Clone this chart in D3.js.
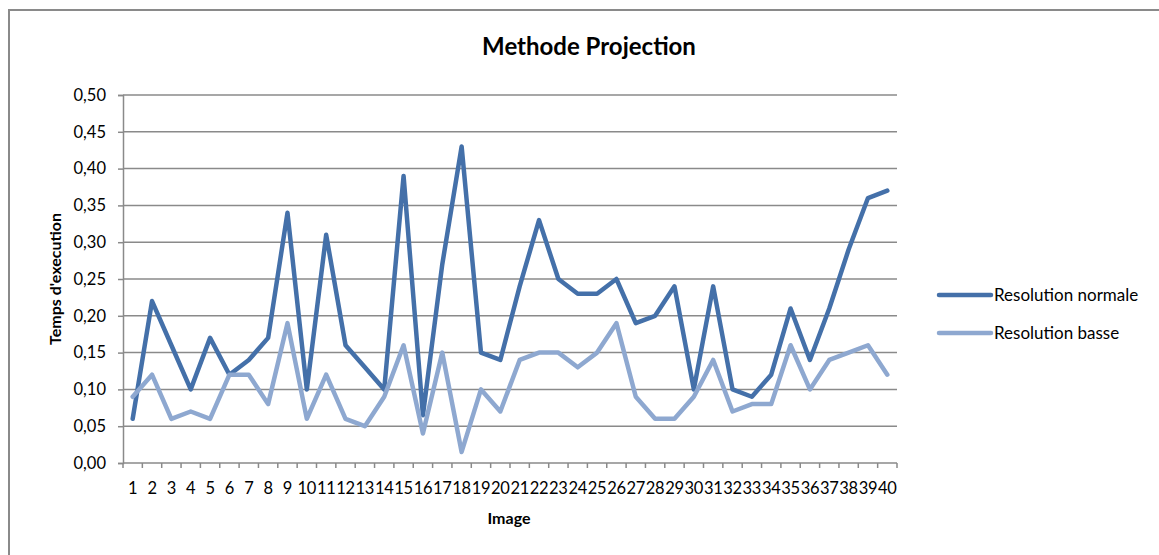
<!DOCTYPE html>
<html>
<head>
<meta charset="utf-8">
<script src="https://cdn.jsdelivr.net/npm/d3@7"></script>
<style>
  body { margin: 0; background: #fff; }
  svg { display: block; font-family: Lato, "Open Sans", sans-serif; }
</style>
</head>
<body>
<div id="chart"></div>
<script>
const images = d3.range(1, 41).map(String)
const normale = [0.06, 0.22, 0.16, 0.10, 0.17, 0.12, 0.14, 0.17, 0.34, 0.10,
  0.31, 0.16, 0.13, 0.10, 0.39, 0.065, 0.27, 0.43, 0.15, 0.14,
  0.24, 0.33, 0.25, 0.23, 0.23, 0.25, 0.19, 0.20, 0.24, 0.10,
  0.24, 0.10, 0.09, 0.12, 0.21, 0.14, 0.21, 0.29, 0.36, 0.37]
const basse = [0.09, 0.12, 0.06, 0.07, 0.06, 0.12, 0.12, 0.08, 0.19, 0.06,
  0.12, 0.06, 0.05, 0.09, 0.16, 0.04, 0.15, 0.015, 0.10, 0.07,
  0.14, 0.15, 0.15, 0.13, 0.15, 0.19, 0.09, 0.06, 0.06, 0.09,
  0.14, 0.07, 0.08, 0.08, 0.16, 0.10, 0.14, 0.15, 0.16, 0.12]
const yTicks = [0, 0.05, 0.10, 0.15, 0.20, 0.25, 0.30, 0.35, 0.40, 0.45, 0.50]
const series = [
  { name: "Resolution normale", values: normale, color: "#4470a9" },
  { name: "Resolution basse", values: basse, color: "#8ea8d0" }
]

const width = 1159
const height = 555
const margin = { left: 123, right: 262, top: 95, bottom: 92 }
const innerW = width - margin.left - margin.right
const innerH = height - margin.top - margin.bottom

const svg = d3.select("#chart").append("svg")
  .attr("width", width)
  .attr("height", height)

// chart frame
svg.append("rect")
  .attr("x", 9).attr("y", 10)
  .attr("width", width + 20).attr("height", height + 20)
  .attr("fill", "none").attr("stroke", "#8a8a8a").attr("stroke-width", 2)

const x = d3.scaleBand().domain(images).range([0, innerW])
const y = d3.scaleLinear().domain([0, 0.5]).range([innerH, 0])

const g = svg.append("g").attr("transform", "translate(" + margin.left + "," + margin.top + ")")

// gridlines
g.append("g")
  .selectAll("line")
  .data(yTicks.slice(1))
  .enter().append("line")
  .attr("x1", 0).attr("x2", innerW)
  .attr("y1", d => y(d)).attr("y2", d => y(d))
  .attr("stroke", "#8a8a8a").attr("stroke-width", 1.5)

const fmt = d => d3.format(".2f")(d).replace(".", ",")

const yAxis = g.append("g")
  .call(d3.axisLeft(y).tickValues(yTicks).tickFormat(fmt).tickSize(5).tickPadding(12))
yAxis.select(".domain").attr("stroke", "#8a8a8a").attr("stroke-width", 1.5)
yAxis.selectAll(".tick line").attr("stroke", "#8a8a8a").attr("stroke-width", 1.5)
yAxis.selectAll("text").attr("font-size", 16.5).attr("font-family", "Lato").attr("fill", "#000")

// x axis: ticks sit on band boundaries
const xAxis = g.append("g").attr("transform", "translate(0," + innerH + ")")
xAxis.append("line")
  .attr("x1", 0).attr("x2", innerW)
  .attr("stroke", "#8a8a8a").attr("stroke-width", 1.5)
xAxis.selectAll(".xtick")
  .data(images.concat(["end"]))
  .enter().append("line")
  .attr("x1", (d, i) => i * x.step()).attr("x2", (d, i) => i * x.step())
  .attr("y1", 0).attr("y2", 5)
  .attr("stroke", "#8a8a8a").attr("stroke-width", 1.5)
xAxis.selectAll(".xlabel")
  .data(images)
  .enter().append("text")
  .attr("x", d => x(d) + x.bandwidth() / 2)
  .attr("y", 31)
  .attr("text-anchor", "middle")
  .attr("font-size", 16.5)
  .attr("letter-spacing", -0.3)
  .text(d => d)

// lines
const line = d3.line()
  .x((d, i) => x(images[i]) + x.bandwidth() / 2)
  .y(d => y(d))

series.forEach(s => {
  g.append("path")
    .datum(s.values)
    .attr("d", line)
    .attr("fill", "none")
    .attr("stroke", s.color)
    .attr("stroke-width", 4.5)
    .attr("stroke-linejoin", "round")
    .attr("stroke-linecap", "round")
})

// titles
svg.append("text")
  .attr("x", 589).attr("y", 55)
  .attr("text-anchor", "middle")
  .attr("font-size", 24).attr("font-weight", "bold")
  .text("Methode Projection")

svg.append("text")
  .attr("x", 509).attr("y", 524)
  .attr("text-anchor", "middle")
  .attr("font-size", 16).attr("font-weight", "bold")
  .text("Image")

svg.append("text")
  .attr("transform", "translate(61," + (margin.top + innerH / 2) + ") rotate(-90)")
  .attr("text-anchor", "middle")
  .attr("font-size", 16).attr("font-weight", "bold")
  .text("Temps d'execution")

// legend
const legend = svg.append("g").attr("transform", "translate(937,295)")
series.forEach((s, i) => {
  const row = legend.append("g").attr("transform", "translate(0," + i * 38 + ")")
  row.append("line")
    .attr("x1", 2).attr("x2", 54)
    .attr("stroke", s.color).attr("stroke-width", 4.5)
    .attr("stroke-linecap", "round")
  row.append("text")
    .attr("x", 57).attr("y", 6)
    .attr("font-size", 17)
    .text(s.name)
})
</script>
</body>
</html>
